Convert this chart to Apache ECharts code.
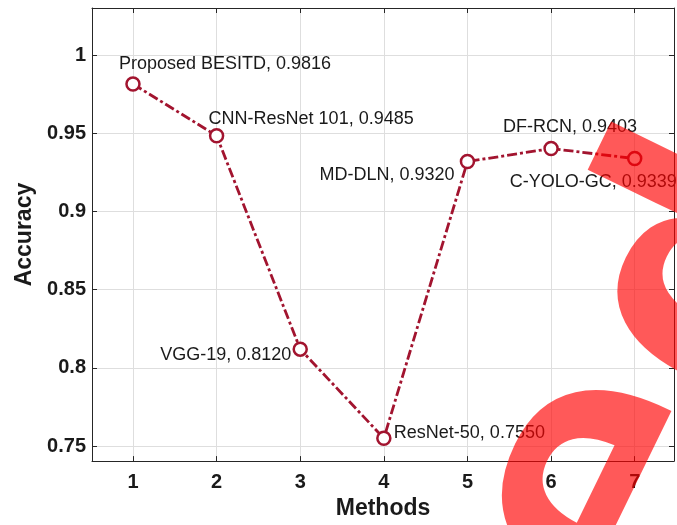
<!DOCTYPE html>
<html>
<head>
<meta charset="utf-8">
<script src="https://cdn.jsdelivr.net/npm/echarts@6/dist/echarts.min.js"></script>
<style>
  html, body { margin: 0; padding: 0; background: #fff; }
  #chart { width: 677px; height: 525px; }
</style>
</head>
<body>
<div id="chart"></div>
<script>
// data
const methods = [1, 2, 3, 4, 5, 6, 7]
const names = ['Proposed BESITD', 'CNN-ResNet 101', 'VGG-19', 'ResNet-50', 'MD-DLN', 'DF-RCN', 'C-YOLO-GC']
const accuracy = [0.9816, 0.9485, 0.8120, 0.7550, 0.9320, 0.9403, 0.9339]
const xTicks = [1, 2, 3, 4, 5, 6, 7]
const yTicks = [0.75, 0.8, 0.85, 0.9, 0.95, 1]

// where each text annotation sits relative to its marker
const labelPlace = [
  {align: 'left', offset: [-14, -20]},
  {align: 'left', offset: [-8, -17]},
  {align: 'right', offset: [-9, 6]},
  {align: 'left', offset: [10, -5]},
  {align: 'right', offset: [-13, 13]},
  {align: 'left', offset: [-48, -22]},
  {align: 'left', offset: [-125, 23]}
]

const lineColor = '#a2142f'
const axisColor = '#262626'
const font = '"Liberation Sans", Arial, Helvetica, sans-serif'

const chart = echarts.init(document.getElementById('chart'), null, {renderer: 'canvas'})

const boxAxis = (extra) => Object.assign({
  type: 'value',
  axisLine: {show: true, lineStyle: {color: axisColor, width: 1}},
  axisTick: {show: true, inside: true, length: 5, lineStyle: {color: axisColor}},
  axisLabel: {show: false},
  splitLine: {show: false}
}, extra)

const points = methods.map((m, i) => ({
  value: [m, accuracy[i]],
  label: {
    show: true,
    position: 'inside',
    align: labelPlace[i].align,
    verticalAlign: 'middle',
    offset: labelPlace[i].offset,
    formatter: names[i] + ', ' + accuracy[i].toFixed(4),
    color: '#1a1a1a',
    fontFamily: font,
    fontSize: 18
  }
}))

// red watermark lettering crossing the right side of the figure
const stamp = (text, x, y, size) => ({
  type: 'text',
  x, y,
  rotation: Math.PI * 64 / 180,
  z: 100,
  silent: true,
  style: {
    text,
    font: 'bold ' + size + 'px "Liberation Sans", Arial, sans-serif',
    fill: 'rgba(255,0,0,0.65)',
    textAlign: 'left',
    textVerticalAlign: 'middle'
  }
})

chart.setOption({
  animation: false,
  backgroundColor: '#fff',
  grid: {left: 92, right: 3, top: 8, bottom: 62, containLabel: false},
  xAxis: [
    boxAxis({
      min: 0.51, max: 7.47,
      position: 'bottom',
      name: 'Methods',
      nameLocation: 'middle',
      nameGap: 34,
      nameTextStyle: {fontFamily: font, fontSize: 23, fontWeight: 'bold', color: '#1a1a1a'},
      axisTick: {show: true, inside: true, length: 5, customValues: xTicks, lineStyle: {color: axisColor}},
      axisLabel: {
        show: true, customValues: xTicks, margin: 11,
        fontFamily: font, fontSize: 20, fontWeight: 'bold', color: '#1a1a1a'
      },
      splitLine: {show: true, lineStyle: {color: '#dedede', width: 1}}
    }),
    boxAxis({
      min: 0.51, max: 7.47,
      position: 'top',
      axisTick: {show: true, inside: true, length: 5, customValues: xTicks, lineStyle: {color: axisColor}}
    })
  ],
  yAxis: [
    boxAxis({
      min: 0.7404, max: 1.0302,
      position: 'left',
      name: 'Accuracy',
      nameLocation: 'middle',
      nameRotate: 90,
      nameGap: 56,
      nameTextStyle: {fontFamily: font, fontSize: 23, fontWeight: 'bold', color: '#1a1a1a'},
      axisTick: {show: true, inside: true, length: 5, customValues: yTicks, lineStyle: {color: axisColor}},
      axisLabel: {
        show: true, customValues: yTicks, margin: 6,
        formatter: v => String(+v.toFixed(2)),
        fontFamily: font, fontSize: 20, fontWeight: 'bold', color: '#1a1a1a'
      },
      splitLine: {show: true, lineStyle: {color: '#dedede', width: 1}}
    }),
    boxAxis({
      min: 0.7404, max: 1.0302,
      position: 'right',
      axisTick: {show: true, inside: true, length: 5, customValues: yTicks, lineStyle: {color: axisColor}}
    })
  ],
  series: [{
    type: 'line',
    xAxisIndex: 0,
    yAxisIndex: 0,
    data: points,
    symbol: 'circle',
    symbolSize: 13,
    showAllSymbol: true,
    lineStyle: {color: lineColor, width: 2.8, type: [10, 3, 3, 3]},
    itemStyle: {color: '#fff', borderColor: lineColor, borderWidth: 2.5},
    emphasis: {disabled: true},
    z: 3
  }],
  graphic: [stamp('e', 561, 601, 420), stamp('d', 676, 388, 390)]
})

window.addEventListener('resize', () => {
  chart.resize()
})
</script>
</body>
</html>
